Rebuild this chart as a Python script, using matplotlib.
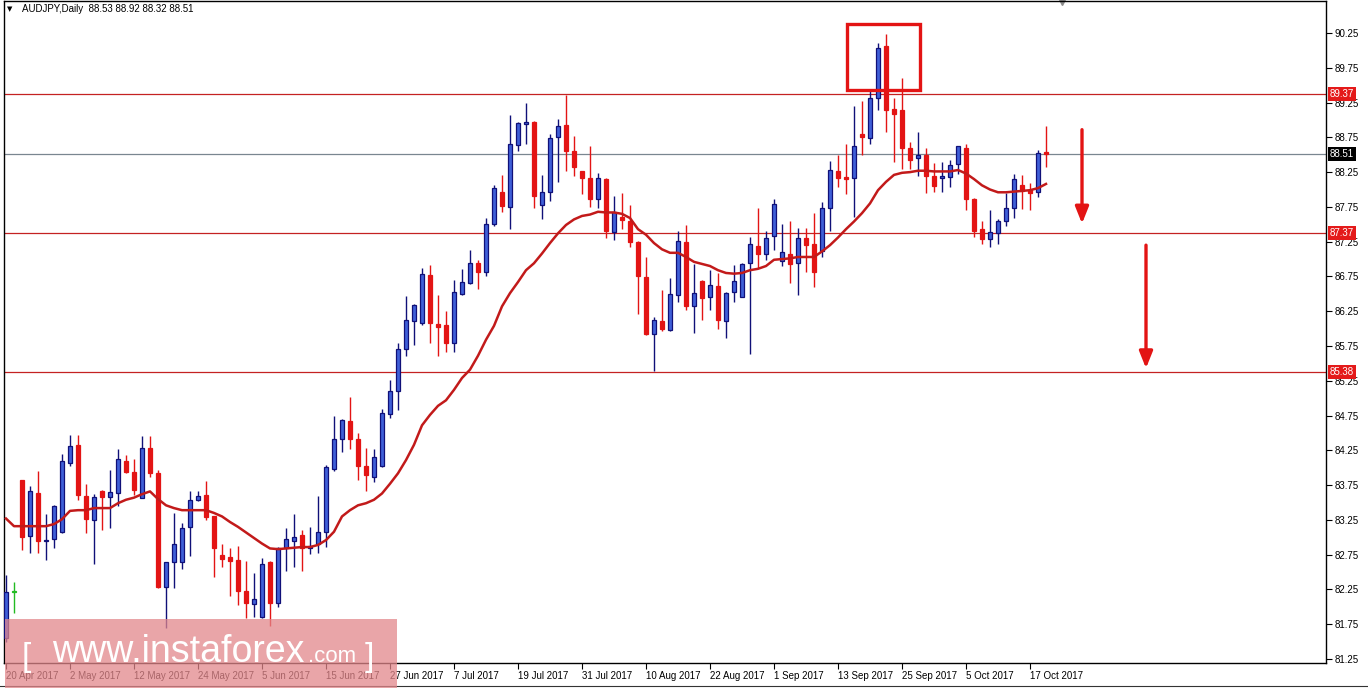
import numpy as np
import matplotlib.pyplot as plt
from matplotlib.patches import Rectangle
from matplotlib.lines import Line2D
from matplotlib.transforms import blended_transform_factory

plt.rcParams['font.family'] = ['Liberation Sans', 'DejaVu Sans']

# daily AUDJPY bars, 20 Apr 2017 .. 19 Oct 2017
opens = [81.55, 82.21, 83.82, 83.02, 83.64, 82.94, 82.97, 83.07, 84.07, 84.33,
         83.60, 83.25, 83.67, 83.58, 83.63, 84.10, 83.94, 83.57, 84.28, 83.93,
         82.28, 82.64, 82.65, 83.15, 83.54, 83.61, 83.30, 82.75, 82.71, 82.67,
         82.23, 82.04, 81.86, 82.64, 82.05, 82.84, 82.95, 83.03, 82.84, 82.90,
         83.07, 83.98, 84.42, 84.67, 84.42, 84.03, 83.87, 84.02, 84.77, 85.11,
         85.71, 86.11, 86.08, 86.77, 86.07, 86.05, 85.80, 86.50, 86.65, 86.95,
         86.82, 87.51, 87.96, 87.75, 88.64, 88.94, 88.97, 87.78, 87.96, 88.75,
         88.93, 88.56, 88.26, 88.16, 87.86, 88.15, 87.39, 87.60, 87.55, 87.25,
         86.74, 85.92, 86.11, 85.98, 86.49, 87.25, 86.33, 86.69, 86.45, 86.61,
         86.11, 86.52, 86.46, 86.94, 87.19, 87.07, 87.33, 86.97, 87.08, 86.94,
         87.31, 87.21, 87.11, 87.74, 88.27, 88.17, 88.16, 88.80, 88.74, 89.31,
         90.06, 89.16, 89.14, 88.59, 88.45, 88.50, 88.19, 88.16, 88.18, 88.37,
         88.59, 87.87, 87.43, 87.29, 87.37, 87.55, 87.73, 88.07, 87.99, 87.96,
         88.53]
highs = [82.46, 82.36, 83.83, 83.74, 83.95, 83.33, 83.46, 84.20, 84.47, 84.47,
         83.76, 83.62, 83.68, 83.97, 84.27, 84.18, 84.12, 84.45, 84.46, 83.97,
         82.65, 83.35, 83.20, 83.67, 83.67, 83.81, 83.30, 82.90, 82.84, 82.88,
         82.66, 82.48, 82.70, 82.66, 82.86, 83.13, 83.34, 83.11, 83.15, 83.60,
         84.04, 84.75, 84.70, 85.02, 84.50, 84.28, 84.27, 84.84, 85.26, 85.80,
         86.47, 86.35, 86.87, 86.92, 86.48, 86.25, 86.70, 86.86, 87.13, 86.98,
         87.59, 88.07, 88.21, 89.07, 88.97, 89.25, 88.98, 88.21, 88.80, 89.01,
         89.36, 88.77, 88.27, 88.63, 88.24, 88.16, 87.91, 87.95, 87.78, 87.26,
         87.03, 86.17, 86.56, 86.73, 87.40, 87.49, 86.93, 86.70, 86.84, 86.80,
         86.52, 86.92, 86.94, 87.32, 87.74, 87.41, 87.87, 87.50, 87.55, 87.44,
         87.44, 87.66, 87.82, 88.41, 88.50, 88.66, 89.20, 89.27, 89.41, 90.10,
         90.24, 89.31, 89.61, 88.69, 88.82, 88.59, 88.38, 88.40, 88.42, 88.63,
         88.66, 87.88, 87.55, 87.71, 87.57, 87.95, 88.23, 88.21, 88.10, 88.57,
         88.92]
lows = [81.50, 81.91, 82.82, 82.77, 82.77, 82.67, 82.84, 83.06, 84.02, 83.53,
        83.06, 82.61, 83.11, 83.13, 83.45, 83.93, 83.61, 83.56, 83.87, 82.27,
        81.70, 82.27, 82.55, 82.73, 83.52, 83.25, 82.43, 82.57, 82.16, 82.03,
        81.84, 81.86, 81.84, 81.72, 82.00, 82.51, 82.58, 82.51, 82.76, 82.77,
        82.86, 83.96, 84.22, 84.27, 83.82, 83.66, 83.80, 84.01, 84.71, 84.83,
        85.61, 85.77, 86.05, 85.79, 85.60, 85.66, 85.66, 86.48, 86.64, 86.57,
        86.76, 87.48, 87.67, 87.43, 88.56, 88.65, 87.74, 87.57, 87.84, 88.11,
        88.26, 88.19, 87.94, 87.75, 87.73, 87.31, 87.27, 87.43, 87.18, 86.21,
        85.91, 85.39, 85.96, 85.97, 86.38, 86.27, 85.93, 86.12, 86.27, 86.00,
        85.86, 86.38, 86.45, 85.64, 86.87, 86.98, 87.13, 86.90, 86.65, 86.49,
        86.82, 86.60, 87.03, 87.41, 88.04, 87.94, 87.61, 88.50, 88.66, 89.15,
        88.83, 88.40, 88.30, 88.30, 88.20, 87.95, 87.97, 87.97, 88.04, 88.23,
        87.71, 87.32, 87.22, 87.18, 87.22, 87.48, 87.59, 87.72, 87.71, 87.89,
        88.32]
closes = [82.21, 82.21, 83.01, 83.66, 82.94, 82.96, 83.45, 84.09, 84.31, 83.61,
          83.26, 83.58, 83.58, 83.65, 84.12, 83.94, 83.68, 84.28, 83.93, 82.29,
          82.64, 82.90, 83.14, 83.54, 83.59, 83.29, 82.84, 82.69, 82.66, 82.23,
          82.05, 82.11, 82.61, 82.05, 82.84, 82.97, 83.01, 82.84, 82.88, 83.07,
          84.01, 84.41, 84.69, 84.41, 84.03, 83.89, 84.15, 84.78, 85.11, 85.70,
          86.12, 86.34, 86.79, 86.08, 86.03, 85.80, 86.52, 86.67, 86.95, 86.81,
          87.50, 88.02, 87.77, 88.65, 88.95, 88.97, 87.90, 87.97, 88.74, 88.92,
          88.56, 88.33, 88.16, 87.87, 88.16, 87.41, 87.67, 87.56, 87.24, 86.75,
          85.92, 86.13, 86.00, 86.50, 87.26, 86.32, 86.51, 86.44, 86.63, 86.12,
          86.51, 86.69, 86.93, 87.21, 87.08, 87.31, 87.79, 87.10, 86.93, 87.31,
          87.20, 86.81, 87.74, 88.28, 88.16, 88.15, 88.63, 88.75, 89.31, 90.04,
          89.15, 89.08, 88.59, 88.43, 88.50, 88.20, 88.05, 88.19, 88.35, 88.62,
          87.87, 87.41, 87.29, 87.39, 87.55, 87.74, 88.15, 87.98, 87.95, 88.53,
          88.51]
ma_values = [83.27, 83.16, 83.16, 83.16, 83.16, 83.16, 83.19, 83.26, 83.38, 83.39,
             83.39, 83.42, 83.42, 83.42, 83.49, 83.54, 83.57, 83.62, 83.66, 83.55,
             83.46, 83.42, 83.39, 83.39, 83.39, 83.39, 83.35, 83.30, 83.22, 83.15,
             83.07, 82.99, 82.91, 82.84, 82.83, 82.84, 82.85, 82.86, 82.86, 82.89,
             82.96, 83.08, 83.30, 83.39, 83.46, 83.49, 83.54, 83.63, 83.77, 83.92,
             84.11, 84.33, 84.61, 84.76, 84.89, 84.97, 85.12, 85.29, 85.41, 85.61,
             85.84, 86.04, 86.32, 86.51, 86.67, 86.84, 86.94, 87.08, 87.23, 87.37,
             87.49, 87.57, 87.62, 87.64, 87.68, 87.67, 87.67, 87.65, 87.59, 87.43,
             87.35, 87.23, 87.14, 87.09, 87.09, 87.03, 86.96, 86.93, 86.90, 86.84,
             86.80, 86.79, 86.80, 86.84, 86.86, 86.90, 86.99, 87.00, 87.01, 87.03,
             87.03, 87.03, 87.11, 87.20, 87.31, 87.43, 87.54, 87.66, 87.80, 87.99,
             88.11, 88.21, 88.24, 88.25, 88.27, 88.27, 88.26, 88.26, 88.26, 88.28,
             88.23, 88.15, 88.06, 88.00, 87.96, 87.96, 87.97, 87.98, 87.99, 88.02,
             88.08]
date_labels = ['20 Apr 2017', '2 May 2017', '12 May 2017', '24 May 2017', '5 Jun 2017',
               '15 Jun 2017', '27 Jun 2017', '7 Jul 2017', '19 Jul 2017', '31 Jul 2017',
               '10 Aug 2017', '22 Aug 2017', '1 Sep 2017', '13 Sep 2017', '25 Sep 2017',
               '5 Oct 2017', '17 Oct 2017']
level_prices = [89.37, 87.37, 85.38]
last_price = 88.51
title_text = 'AUDJPY,Daily  88.53 88.92 88.32 88.51'
# annotations drawn by the analyst: box (bars, prices) and two down arrows
box_bars = (105.1, 114.25)
box_prices = (89.43, 90.38)
arrows = [(134.5, 88.86, 87.51), (142.5, 87.20, 85.43)]

RED = '#e31414'
LINE_RED = '#c42222'
BLUE_FILL = '#3f5fd8'
NAVY = '#101078'

fig = plt.figure(figsize=(13.68, 6.88), dpi=100)
ax = fig.add_axes([4 / 1368, 1 - 663 / 688, 1322 / 1368, 662 / 688])
ax.set_xlim(-0.25, 165)
ax.set_ylim(81.193, 90.71)

x = np.arange(len(opens))
o = np.array(opens)
c = np.array(closes)
up = c > o
down = c < o
wick_cols = np.where(up, NAVY, np.where(down, RED, '#22bb22'))
fill_cols = np.where(up, BLUE_FILL, np.where(down, RED, '#22bb22'))
edge_cols = np.where(up, NAVY, np.where(down, RED, '#22bb22'))

ax.vlines(x, lows, highs, colors=wick_cols, lw=1, zorder=3)
bottoms = np.minimum(o, c)
heights = np.maximum(np.abs(c - o), 0.025)
ax.bar(x, heights, bottom=bottoms, width=0.62, color=fill_cols,
       edgecolor=edge_cols, linewidth=0.9, zorder=4)

ax.plot(x, ma_values, color='#c21a1a', lw=1.8, zorder=5)

for p in level_prices:
    ax.axhline(p, color=LINE_RED, lw=0.9, zorder=2)
ax.axhline(last_price, color='#7a8690', lw=0.9, zorder=2)

ax.add_patch(Rectangle((box_bars[0], box_prices[0]), box_bars[1] - box_bars[0],
                       box_prices[1] - box_prices[0], fill=False, ec=RED, lw=2.4, zorder=6))
for ax_x, y0, y1 in arrows:
    ax.annotate('', xy=(ax_x, y1), xytext=(ax_x, y0),
                arrowprops=dict(arrowstyle='-|>,head_length=0.5,head_width=0.2',
                                color=RED, lw=2.4, mutation_scale=20,
                                shrinkA=0, shrinkB=0), zorder=6)

# axes styling
for s in ax.spines.values():
    s.set_color('black')
    s.set_linewidth(1)
ax.yaxis.tick_right()
ax.set_yticks(np.arange(81.25, 90.26, 0.5))
ax.set_yticklabels([f'{v:.2f}' for v in np.arange(81.25, 90.26, 0.5)])
ax.set_xticks(np.arange(0, 8 * len(date_labels), 8))
ax.set_xticklabels(date_labels)
ax.tick_params(axis='both', direction='out', length=4, width=0.8, labelsize=7, pad=2)
plt.setp(ax.get_xticklabels(), ha='left')

trans = blended_transform_factory(ax.transAxes, ax.transData)
for p in level_prices:
    ax.text(1.0 + 4 / 1322, p, f'{p:.2f}', transform=trans, ha='left', va='center',
            fontsize=7, color='white', zorder=10, clip_on=False,
            bbox=dict(boxstyle='square,pad=0.2', fc='#e41a1a', ec='none'))
ax.text(1.0 + 4 / 1322, last_price, f'{last_price:.2f}', transform=trans, ha='left',
        va='center', fontsize=7, color='white', zorder=10, clip_on=False,
        bbox=dict(boxstyle='square,pad=0.2', fc='black', ec='none'))

ax.plot([132], [1.0], transform=blended_transform_factory(ax.transData, ax.transAxes),
        marker='v', color='#8a8a8a', markersize=6, clip_on=False)

fig.text(7 / 1368, 1 - 9 / 688, '\u25bc', fontsize=5, va='center',
         family=['DejaVu Sans'])
fig.text(22 / 1368, 1 - 9 / 688, title_text, fontsize=7, va='center')

# watermark
fig.add_artist(Rectangle((5 / 1368, 0), 392 / 1368, 69 / 688, transform=fig.transFigure,
                         fc=(226 / 255, 135 / 255, 139 / 255), ec='none', alpha=0.75, zorder=20))
base = (688 - 662) / 688
fig.text(22 / 1368, base - 0.006, '[', fontsize=24, color='white', va='baseline', zorder=21)
fig.text(52 / 1368, base, 'www.instaforex', fontsize=27, color='white', va='baseline', zorder=21)
fig.text(308 / 1368, base, '.com', fontsize=16, color='white', va='baseline', zorder=21)
fig.text(365 / 1368, base - 0.006, ']', fontsize=24, color='white', va='baseline', zorder=21)

fig.add_artist(Line2D([0, 1], [2 / 688, 2 / 688], transform=fig.transFigure,
                      color='#333333', lw=0.8))

fig.savefig('out.png', dpi=100)
